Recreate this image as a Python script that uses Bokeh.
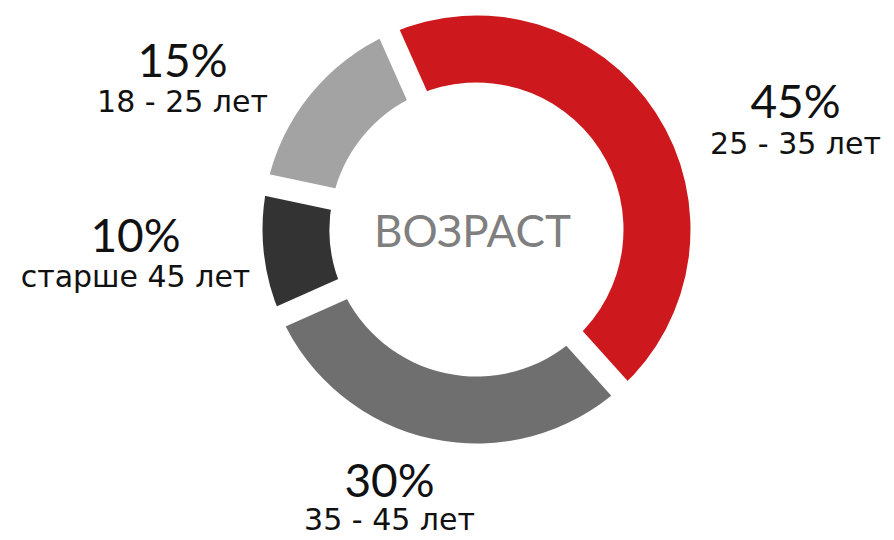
import numpy as np
from bokeh.plotting import figure
from bokeh.models import Range1d, ColumnDataSource
from bokeh.core.properties import value
from bokeh.embed import file_html
from bokeh.resources import INLINE

# ---- data ----
categories = ["25 - 35 лет", "35 - 45 лет", "старше 45 лет", "18 - 25 лет"]
shares = [45, 30, 10, 15]
colors = ["#CD181E", "#6F6F6F", "#333333", "#A3A3A3"]
center_title = "ВОЗРАСТ"

# ---- layout ----
W, H = 894, 540
cx, cy = 476, H - 229
r_in, r_out = 147, 214
start_deg = -24  # clockwise from 12 o'clock
gap_px = 22
font = "Lato"
sub_font = "DejaVu Sans"
label_pos = [  # (x, baseline of %, baseline of category) in screen px
    (795, 118, 157),
    (389, 497, 533),
    (135, 252, 290),
    (182, 77, 115),
]
pct_shift, sub_shift, title_shift = 18, 14, 16  # baseline compensation

vals = np.array(shares, dtype=float)
frac = vals / vals.sum()
cum = np.concatenate([[0], np.cumsum(frac)]) * 360.0
theta0 = start_deg + cum[:-1]
theta1 = start_deg + cum[1:]
start_math = np.deg2rad(90 - theta0)
end_math = np.deg2rad(90 - theta1)

p = figure(width=W, height=H, x_range=Range1d(0, W), y_range=Range1d(0, H),
           output_backend="svg", toolbar_location=None, min_border=0)
p.axis.visible = False
p.grid.visible = False
p.outline_line_color = None
p.background_fill_color = "white"

src = ColumnDataSource(dict(x=[cx] * len(vals), y=[cy] * len(vals),
                            s=start_math, e=end_math, c=colors))
p.annular_wedge(x="x", y="y", inner_radius=r_in, outer_radius=r_out,
                inner_radius_units="screen", outer_radius_units="screen",
                start_angle="s", end_angle="e", direction="clock",
                fill_color="c", line_color=None, source=src)

# parallel white gaps at boundaries
b = np.deg2rad(90 - theta0)
L = r_out + 30
p.segment(x0=[cx] * len(b), y0=[cy] * len(b),
          x1=list(cx + L * np.cos(b)), y1=list(cy + L * np.sin(b)),
          line_color="white", line_width=gap_px, line_cap="butt")

pct = [f"{int(v)}%" for v in shares]
p.text(x=[lp[0] for lp in label_pos], y=[H - lp[1] + pct_shift for lp in label_pos], text=pct,
       text_font=value(font), text_font_size="46px", text_color="#111111",
       text_align="center", text_baseline="alphabetic")
p.text(x=[lp[0] for lp in label_pos], y=[H - lp[2] + sub_shift for lp in label_pos], text=categories,
       text_font=value(sub_font), text_font_size="30px", text_color="#111111",
       text_align="center", text_baseline="alphabetic")
p.text(x=[472], y=[H - 245 + title_shift], text=[center_title],
       text_font=value(font), text_font_size="44px", text_color="#7F7F7F",
       text_align="center", text_baseline="alphabetic")

open("out.html", "w").write(file_html(p, INLINE))
